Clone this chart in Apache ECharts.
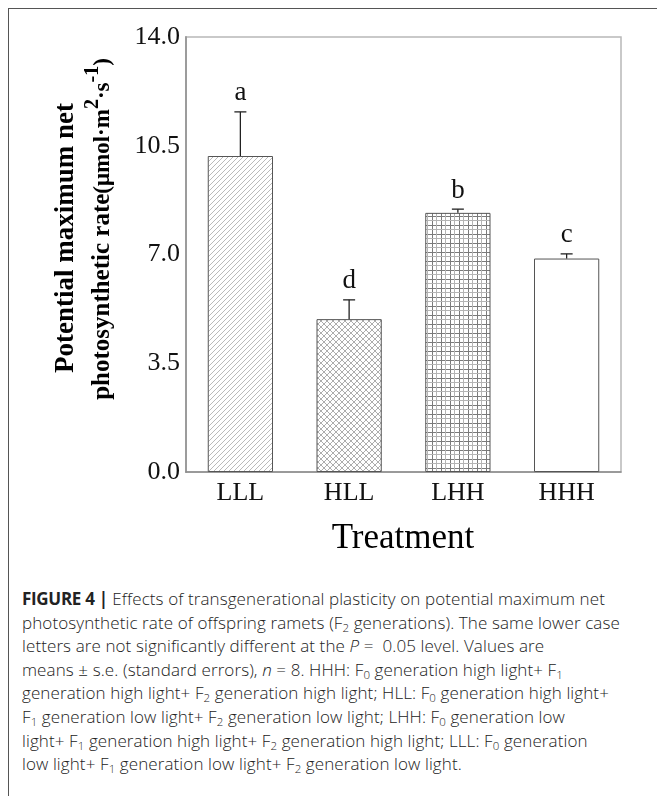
<!DOCTYPE html>
<html>
<head>
<meta charset="utf-8" />
<title>Figure 4</title>
<script src="https://cdn.jsdelivr.net/npm/echarts@6/dist/echarts.min.js"></script>
<style>
  html, body { margin: 0; padding: 0; background: #fff; }
  body { position: relative; width: 657px; height: 796px; overflow: hidden; }
  #frame {
    position: absolute; left: 8px; top: 8px; width: 660px; height: 800px;
    border-top: 1px solid #555; border-left: 1px solid #555;
  }
  #container { position: absolute; left: 0; top: 0; width: 657px; height: 585px; }
  #caption {
    position: absolute; left: 22px; top: 587px; width: 640px;
    font-family: "Open Sans", "Liberation Sans", sans-serif; font-size: 17px; font-weight: 300;
    letter-spacing: 0.1px; line-height: 23.6px; color: #222; white-space: nowrap;
  }
  #caption b { font-weight: 700; letter-spacing: -0.3px; }
  #caption .s { font-size: 11.5px; vertical-align: -3px; line-height: 0; }
</style>
</head>
<body>
<div id="frame"></div>
<div id="container"></div>
<div id="caption">
  <b>FIGURE 4 |</b> Effects of transgenerational plasticity on potential maximum net<br>
  photosynthetic rate of offspring ramets (F<span class="s">2</span> generations). The same lower case<br>
  letters are not significantly different at the <i>P</i> =&nbsp; 0.05 level. Values are<br>
  means ± s.e. (standard errors), <i>n</i> = 8. HHH: F<span class="s">0</span> generation high light+ F<span class="s">1</span><br>
  generation high light+ F<span class="s">2</span> generation high light; HLL: F<span class="s">0</span> generation high light+<br>
  F<span class="s">1</span> generation low light+ F<span class="s">2</span> generation low light; LHH: F<span class="s">0</span> generation low<br>
  light+ F<span class="s">1</span> generation high light+ F<span class="s">2</span> generation high light; LLL: F<span class="s">0</span> generation<br>
  low light+ F<span class="s">1</span> generation low light+ F<span class="s">2</span> generation low light.
</div>

<script>
var treatments = ['LLL', 'HLL', 'LHH', 'HHH'];
var means = [10.17, 4.92, 8.34, 6.87];
var errors = [1.42, 0.62, 0.12, 0.15];
var letters = ['a', 'd', 'b', 'c'];

var serif = '"Liberation Serif", "Times New Roman", serif';

// hatch fills drawn on small canvases
function tile(size, draw) {
  var c = document.createElement('canvas');
  c.width = size; c.height = size;
  var ctx = c.getContext('2d');
  ctx.fillStyle = '#fff';
  ctx.fillRect(0, 0, size, size);
  draw(ctx, size);
  return { image: c, repeat: 'repeat' };
}
function diag(ctx, s, dir) {
  for (var k = -1; k <= 1; k++) {
    ctx.beginPath();
    if (dir > 0) { ctx.moveTo(k * s - 1, s + 1); ctx.lineTo(k * s + s + 1, -1); }
    else { ctx.moveTo(k * s - 1, -1); ctx.lineTo(k * s + s + 1, s + 1); }
    ctx.stroke();
  }
}
var fills = [
  tile(5, function (ctx, s) { ctx.strokeStyle = '#a8a8a8'; ctx.lineWidth = 0.8; diag(ctx, s, 1); }),
  tile(6, function (ctx, s) { ctx.strokeStyle = '#8a8a8a'; ctx.lineWidth = 0.7; diag(ctx, s, 1); diag(ctx, s, -1); }),
  tile(9, function (ctx, s) {
    ctx.fillStyle = '#7a7a7a'; ctx.fillRect(0, 0, 1, s); ctx.fillRect(0, 0, s, 1);
    ctx.fillStyle = '#b4b4b4'; ctx.fillRect(4, 0, 1, s); ctx.fillRect(0, 4, s, 1);
  }),
  '#ffffff'
];

var chart = echarts.init(document.getElementById('container'));

var option = {
  animation: false,
  grid: { left: 186, top: 37, width: 435, height: 435, show: true, borderColor: '#b8b8b8', borderWidth: 1.5 },
  xAxis: {
    type: 'category',
    data: treatments,
    axisLine: { lineStyle: { color: '#8c8c8c', width: 1.5 } },
    axisTick: { show: false },
    axisLabel: { fontFamily: serif, fontSize: 26, color: '#111', margin: 8 }
  },
  yAxis: {
    type: 'value',
    min: 0, max: 14, interval: 3.5,
    axisLine: { show: true, lineStyle: { color: '#9c9c9c', width: 2 } },
    axisTick: { show: false },
    splitLine: { show: false },
    axisLabel: {
      fontFamily: serif, fontSize: 26, color: '#111', margin: 6,
      formatter: function (v) { return v.toFixed(1); }
    }
  },
  graphic: [
    {
      type: 'text', x: 66, y: 238, rotation: Math.PI / 2,
      style: {
        text: 'Potential maximum net', fill: '#000',
        font: 'bold 27px ' + serif, align: 'center', verticalAlign: 'middle'
      }
    },
    {
      type: 'text', x: 99, y: 229, rotation: Math.PI / 2,
      style: {
        text: '{n|photosynthetic rate}{p|(μmol·m}{s|2}{p|·s}{s|-1}{p|)}',
        align: 'center', verticalAlign: 'middle', fill: '#000',
        rich: {
          n: { font: 'bold 25px ' + serif, verticalAlign: 'bottom', fill: '#000' },
          p: { font: 'bold 23px ' + serif, verticalAlign: 'bottom', fill: '#000' },
          s: { font: 'bold 20px ' + serif, verticalAlign: 'top', padding: [0, 0, 12, 0], fill: '#000' }
        }
      }
    },
    {
      type: 'text', x: 403, y: 539,
      style: {
        text: 'Treatment', fill: '#000', font: '35px ' + serif,
        align: 'center', verticalAlign: 'middle'
      }
    }
  ],
  series: [
    {
      type: 'bar',
      barWidth: '60%',
      data: means.map(function (v, i) {
        return { value: v, itemStyle: { color: fills[i], borderColor: '#555', borderWidth: 1 } };
      })
    },
    {
      type: 'custom',
      encode: { x: 0, y: 1 },
      data: means.map(function (v, i) { return [i, v, errors[i]]; }),
      z: 3,
      renderItem: function (params, api) {
        var i = api.value(0);
        var base = api.coord([i, api.value(1)]);
        var top = api.coord([i, api.value(1) + api.value(2)]);
        var ls = { stroke: '#222', lineWidth: 1.3 };
        return {
          type: 'group',
          children: [
            { type: 'line', shape: { x1: base[0], y1: base[1], x2: top[0], y2: top[1] }, style: ls },
            { type: 'line', shape: { x1: top[0] - 6, y1: top[1], x2: top[0] + 6, y2: top[1] }, style: ls },
            {
              type: 'text', x: top[0], y: top[1] - 5,
              style: {
                text: letters[params.dataIndex], fill: '#111', font: '27px ' + serif,
                align: 'center', verticalAlign: 'bottom'
              }
            }
          ]
        };
      }
    }
  ]
};

chart.setOption(option);
</script>
</body>
</html>
